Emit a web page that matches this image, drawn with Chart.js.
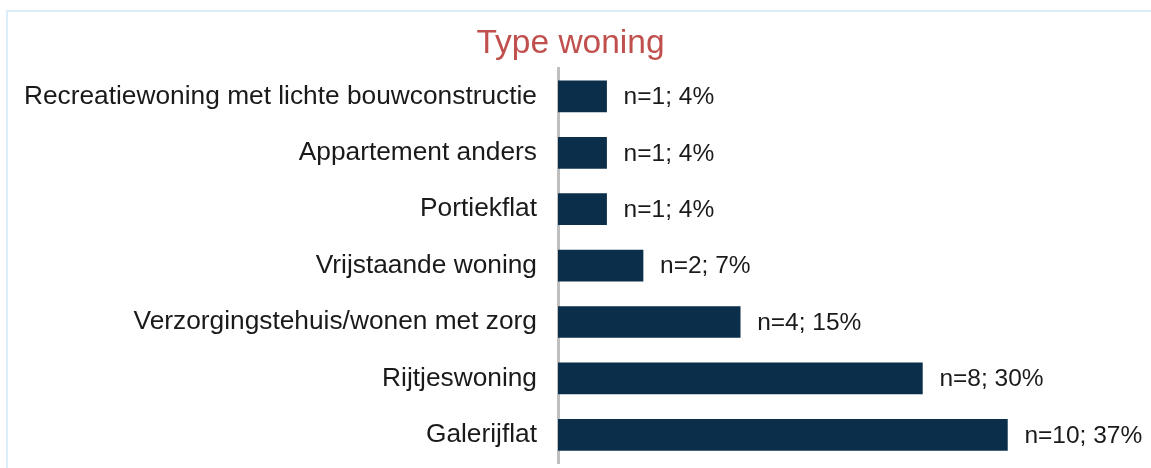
<!DOCTYPE html>
<html>
<head>
<meta charset="utf-8">
<script src="https://cdn.jsdelivr.net/npm/chart.js@4/dist/chart.umd.min.js"></script>
<style>
  html, body { margin: 0; padding: 0; background: #ffffff; }
  #wrap { position: relative; width: 1151px; height: 468px; overflow: hidden; }
  #frame { position: absolute; left: 6px; top: 10px; width: 1200px; height: 500px;
           border-top: 2px solid #dbeefa; border-left: 2px solid #dbeefa; box-sizing: border-box; }
  canvas { position: absolute; left: 0; top: 0; }
</style>
</head>
<body>
<div id="wrap">
  <div id="frame"></div>
  <canvas id="c" width="1151" height="468"></canvas>
</div>
<script>
const categories = [
  "Recreatiewoning met lichte bouwconstructie",
  "Appartement anders",
  "Portiekflat",
  "Vrijstaande woning",
  "Verzorgingstehuis/wonen met zorg",
  "Rijtjeswoning",
  "Galerijflat"
];
const counts = [1, 1, 1, 2, 4, 8, 10];
const percents = [4, 4, 4, 7, 15, 30, 37];
const valueLabels = counts.map((n, i) => "n=" + n + "; " + percents[i] + "%");
const chartTitle = "Type woning";

const FONT = "'Liberation Sans', Arial, sans-serif";

const valueLabelPlugin = {
  id: 'valueLabels',
  afterDatasetsDraw(chart) {
    const ctx = chart.ctx;
    const meta = chart.getDatasetMeta(0);
    ctx.save();
    ctx.font = "24.5px " + FONT;
    ctx.fillStyle = "#1a1a1a";
    ctx.textAlign = "left";
    ctx.textBaseline = "middle";
    meta.data.forEach((bar, i) => {
      ctx.fillText(valueLabels[i], bar.x + 17, bar.y + 1);
    });
    ctx.restore();
  }
};

new Chart(document.getElementById('c'), {
  type: 'bar',
  data: {
    labels: categories,
    datasets: [{
      data: percents,
      backgroundColor: '#0b2e4a',
      borderWidth: 0,
      barThickness: 31
    }]
  },
  options: {
    indexAxis: 'y',
    responsive: false,
    animation: false,
    layout: { padding: { left: 0, right: 10, top: 0, bottom: 5 } },
    plugins: {
      legend: { display: false },
      tooltip: { enabled: false },
      title: {
        display: true,
        text: chartTitle,
        color: '#c0504d',
        font: { family: FONT, size: 33.5, weight: 'normal' },
        padding: { top: 24, bottom: 4 }
      }
    },
    scales: {
      x: {
        display: false,
        min: 0,
        max: 48
      },
      y: {
        grid: { display: false, drawTicks: false },
        border: { display: true, color: '#bfbfbf', width: 3 },
        ticks: {
          color: '#1a1a1a',
          font: { family: FONT, size: 26.3 },
          padding: 21
        },
        afterFit(scale) {
          scale.width = 558;
          scale.paddingTop = 0;
          scale.paddingBottom = 0;
        }
      }
    }
  },
  plugins: [valueLabelPlugin]
});
</script>
</body>
</html>
